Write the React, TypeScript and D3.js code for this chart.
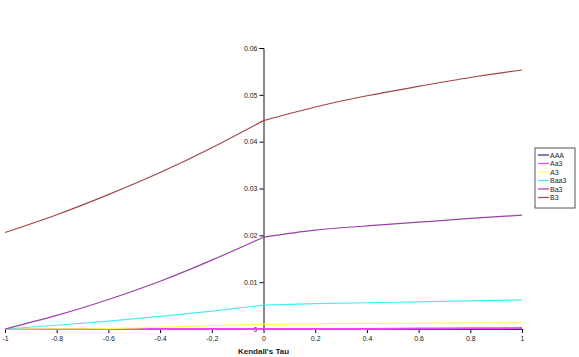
import React, { useRef, useEffect } from 'react';
import * as d3 from 'd3';

// Kendall's tau values on the x axis
const taus = [-1, -0.8, -0.6, -0.4, -0.2, 0, 0.2, 0.4, 0.6, 0.8, 1];

// one array per rating class
const aaa = [0, 0, 0, 0, 0, 0, 0, 0, 0, 0, 0];
const aa3 = [0, 0, 0, 0, 0, 0, 0, 0, 0.0001, 0.00015, 0.0002];
const a3 = [0, 0.00005, 0.0001, 0.0004, 0.0007, 0.001, 0.0011, 0.0012, 0.0012, 0.0013, 0.0013];
const baa3 = [0, 0.0008, 0.0017, 0.0027, 0.0038, 0.0051, 0.0054, 0.0056, 0.0058, 0.006, 0.0062];
const ba3 = [0, 0.0029, 0.0063, 0.0102, 0.0147, 0.0196, 0.0211, 0.022, 0.0228, 0.0236, 0.0243];
const b3 = [0.0206, 0.0244, 0.0287, 0.0334, 0.0387, 0.0445, 0.0474, 0.0498, 0.0518, 0.0537, 0.0553];

const seriesNames = ['AAA', 'Aa3', 'A3', 'Baa3', 'Ba3', 'B3'];
const seriesColors = ['#2a2a80', '#ee44ee', '#ffff55', '#44eeee', '#9a40a8', '#a04545'];
const seriesValues = [aaa, aa3, a3, baa3, ba3, b3];

const xTicks = [-1, -0.8, -0.6, -0.4, -0.2, 0, 0.2, 0.4, 0.6, 0.8, 1];
const yTicks = [0, 0.01, 0.02, 0.03, 0.04, 0.05, 0.06];

const App = () => {
    const svgRef = useRef(null);

    useEffect(() => {
        const width = 579;
        const height = 357;
        const font = '"Liberation Sans", Arial, sans-serif';

        d3.select(svgRef.current).selectAll('*').remove();
        const svg = d3.select(svgRef.current)
            .attr('width', width)
            .attr('height', height);

        const x = d3.scaleLinear().domain([-1, 1]).range([5, 522]);
        const y = d3.scaleLinear().domain([0, 0.06]).range([329, 48]);

        // Y axis sits at tau = 0
        const yAxis = svg.append('g')
            .attr('transform', `translate(${x(0)},0)`)
            .call(d3.axisLeft(y).tickValues(yTicks).tickSize(4).tickPadding(2)
                .tickFormat(d => String(d)));
        yAxis.selectAll('text').style('font-family', font).style('font-size', '7px').attr('fill', '#222');
        yAxis.select('.domain').attr('stroke', '#111');

        // X axis along the bottom
        const xAxis = svg.append('g')
            .attr('transform', `translate(0,${y(0)})`)
            .call(d3.axisBottom(x).tickValues(xTicks).tickSize(4).tickPadding(3)
                .tickFormat(d => String(d)));
        xAxis.selectAll('text').style('font-family', font).style('font-size', '7px').attr('fill', '#222');
        xAxis.select('.domain').attr('stroke', '#111');

        svg.append('text')
            .attr('x', x(0))
            .attr('y', 354)
            .attr('text-anchor', 'middle')
            .style('font-family', font)
            .style('font-size', '8px')
            .style('font-weight', 'bold')
            .attr('fill', '#222')
            .text("Kendall's Tau");

        const line = d3.line()
            .x(d => x(d[0]))
            .y(d => y(d[1]))
            .curve(d3.curveNatural);

        // each series bends at tau = 0, so draw the two halves as separate smooth pieces
        seriesValues.forEach((vals, k) => {
            const pts = vals.map((v, i) => [taus[i], v]);
            const halves = [pts.filter(p => p[0] <= 0), pts.filter(p => p[0] >= 0)];
            halves.forEach(h => {
                svg.append('path')
                    .datum(h)
                    .attr('fill', 'none')
                    .attr('stroke', seriesColors[k])
                    .attr('stroke-width', k < 2 ? 2 : 1.2)
                    .attr('d', line);
            });
        });

        // Legend box
        const lg = svg.append('g').attr('transform', 'translate(535,148)');
        lg.append('rect')
            .attr('width', 40)
            .attr('height', 60)
            .attr('fill', '#fff')
            .attr('stroke', '#555')
            .attr('stroke-width', 1);
        seriesNames.forEach((name, i) => {
            const yy = 7 + i * 8.5;
            lg.append('line')
                .attr('x1', 3).attr('x2', 14)
                .attr('y1', yy).attr('y2', yy)
                .attr('stroke', seriesColors[i])
                .attr('stroke-width', 1.2);
            lg.append('text')
                .attr('x', 15)
                .attr('y', yy + 2.5)
                .style('font-family', font)
                .style('font-size', '7px')
                .attr('fill', '#222')
                .text(name);
        });
    }, []);

    return (
        <svg ref={svgRef} style={{ position: 'absolute', left: 0, top: 0, background: '#fff' }}></svg>
    );
};

export default App;
